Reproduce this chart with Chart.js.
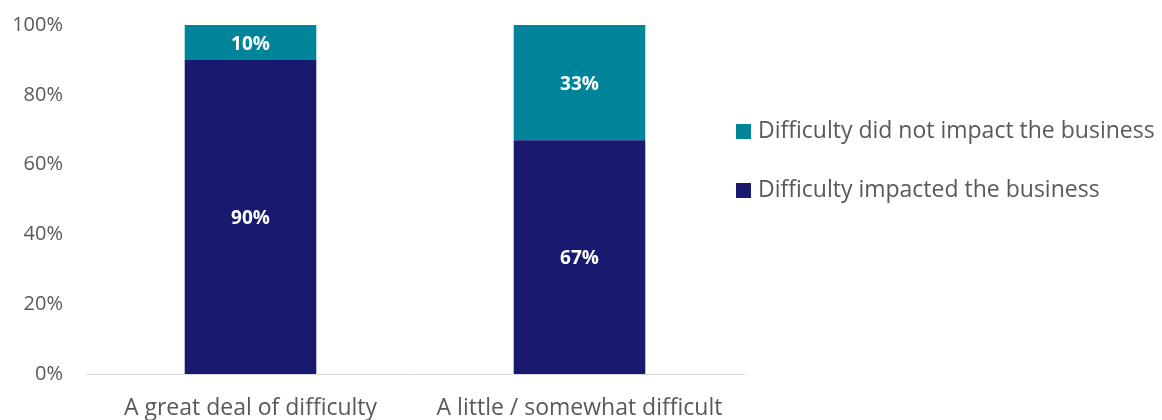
<!DOCTYPE html>
<html>
<head>
<meta charset="utf-8">
<script src="https://cdn.jsdelivr.net/npm/chart.js@4"></script>
<style>
  html, body { margin: 0; padding: 0; background: #fff; }
  #wrap { width: 1162px; height: 420px; }
</style>
</head>
<body>
<div id="wrap"><canvas id="impactChart" width="1162" height="420"></canvas></div>
<script>
const categories = ["A great deal of difficulty", "A little / somewhat difficult"];
const impacted = [90, 67];
const notImpacted = [10, 33];
const seriesNames = ["Difficulty impacted the business", "Difficulty did not impact the business"];
const seriesColors = ["#191970", "#00849A"];
const yTicks = [0, 20, 40, 60, 80, 100];

const FONT = "'Open Sans', sans-serif";
const GREY = "#595959";

// white bold value labels in the middle of each segment
const barLabels = {
  id: "barLabels",
  afterDatasetsDraw(chart) {
    const ctx = chart.ctx;
    ctx.save();
    ctx.font = "bold 19px " + FONT;
    ctx.fillStyle = "#fff";
    ctx.textAlign = "center";
    ctx.textBaseline = "middle";
    chart.data.datasets.forEach((ds, i) => {
      chart.getDatasetMeta(i).data.forEach((bar, j) => {
        const mid = (bar.y + bar.base) / 2;
        ctx.fillText(ds.data[j] + "%", bar.x, mid + 2);
      });
    });
    ctx.restore();
  }
};

// legend on the right, top series listed first
const sideLegend = {
  id: "sideLegend",
  afterDraw(chart) {
    const ctx = chart.ctx;
    const items = chart.data.datasets.slice().reverse();
    ctx.save();
    ctx.font = "23px " + FONT;
    ctx.textBaseline = "middle";
    ctx.textAlign = "left";
    items.forEach((ds, k) => {
      const y = 131.5 + k * 59;
      ctx.fillStyle = ds.backgroundColor;
      ctx.fillRect(736, y - 7.5, 15, 15);
      ctx.fillStyle = GREY;
      ctx.fillText(ds.label, 758, y);
    });
    ctx.restore();
  }
};

new Chart(document.getElementById("impactChart").getContext("2d"), {
  type: "bar",
  data: {
    labels: categories,
    datasets: [
      { label: seriesNames[0], data: impacted, backgroundColor: seriesColors[0] },
      { label: seriesNames[1], data: notImpacted, backgroundColor: seriesColors[1] }
    ]
  },
  options: {
    responsive: false,
    animation: false,
    layout: { padding: { left: 0, right: 418, top: 25, bottom: 0 } },
    datasets: { bar: { categoryPercentage: 1, barPercentage: 0.4 } },
    plugins: { legend: { display: false }, tooltip: { enabled: false } },
    scales: {
      x: {
        stacked: true,
        grid: { display: false, drawTicks: false },
        border: { display: true, color: "#d9d9d9", width: 1 },
        ticks: { color: GREY, font: { family: FONT, size: 23 }, padding: 21, maxRotation: 0 },
        afterFit(scale) { scale.height = 46; }
      },
      y: {
        stacked: true,
        min: 0,
        max: 100,
        afterBuildTicks(scale) { scale.ticks = yTicks.map(v => ({ value: v })); },
        grid: { display: false, drawTicks: false },
        border: { display: false },
        ticks: { color: GREY, font: { family: FONT, size: 20 }, padding: 23, callback: v => v + "%" },
        afterFit(scale) {
          scale.width = 86;
          // keep the tick padding from pushing the plot area down
          scale.paddingTop = 0;
          scale.paddingBottom = 0;
        }
      }
    }
  },
  plugins: [barLabels, sideLegend]
});
</script>
</body>
</html>
